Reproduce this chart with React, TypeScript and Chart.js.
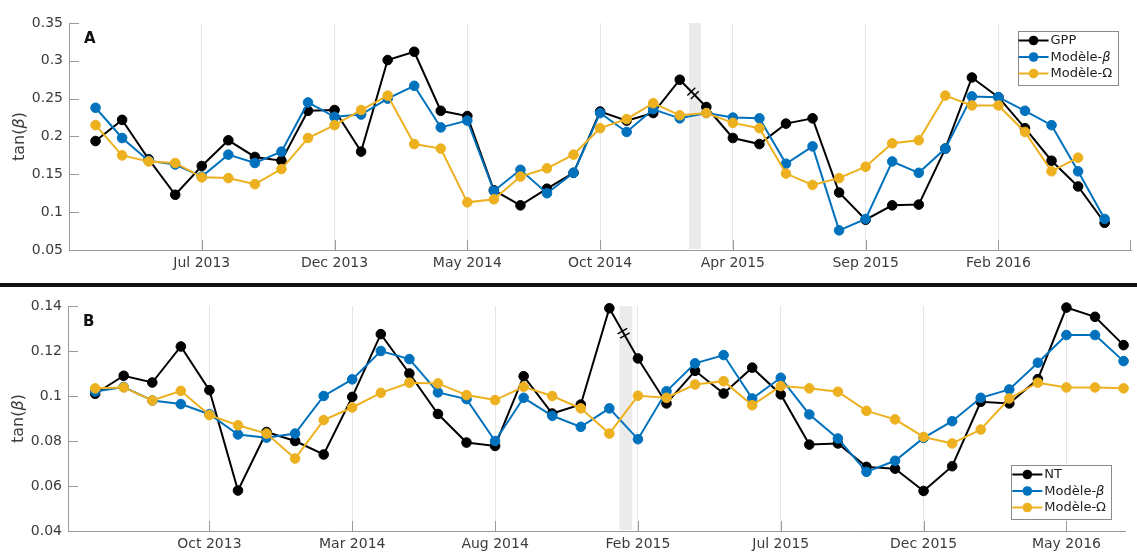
import React, { useEffect, useRef } from 'react';
import { Chart, registerables } from 'chart.js';

Chart.register(...registerables);

// ---------- Panel A data ----------
const monthsA = [
  'Mar 2013', 'Apr 2013', 'May 2013', 'Jun 2013', 'Jul 2013', 'Aug 2013', 'Sep 2013', 'Oct 2013', 'Nov 2013', 'Dec 2013',
  'Jan 2014', 'Feb 2014', 'Mar 2014', 'Apr 2014', 'May 2014', 'Jun 2014', 'Jul 2014', 'Aug 2014', 'Sep 2014', 'Oct 2014', 'Nov 2014', 'Dec 2014',
  'Jan 2015', 'Mar 2015', 'Apr 2015', 'May 2015', 'Jun 2015', 'Jul 2015', 'Aug 2015', 'Sep 2015', 'Oct 2015', 'Nov 2015', 'Dec 2015',
  'Jan 2016', 'Feb 2016', 'Mar 2016', 'Apr 2016', 'May 2016', 'Jun 2016',
];
const xTickLabelsA = ['Jul 2013', 'Dec 2013', 'May 2014', 'Oct 2014', 'Apr 2015', 'Sep 2015', 'Feb 2016'];
const yTickLabelsA = ['0.05', '0.1', '0.15', '0.2', '0.25', '0.3', '0.35'];
const gppA = [
  0.194, 0.222, 0.170, 0.123, 0.161, 0.195, 0.173, 0.168, 0.234, 0.235,
  0.180, 0.301, 0.312, 0.234, 0.227, 0.129, 0.109, 0.131, 0.152, 0.233, 0.221, 0.231,
  0.275, 0.239, 0.198, 0.190, 0.217, 0.224, 0.126, 0.090, 0.109, 0.110, 0.184,
  0.278, 0.252, 0.211, 0.168, 0.134, 0.086,
];
const betaA = [
  0.238, 0.198, 0.168, 0.163, 0.147, 0.176, 0.165, 0.180, 0.245, 0.226,
  0.229, 0.250, 0.267, 0.212, 0.221, 0.128, 0.156, 0.125, 0.152, 0.231, 0.206, 0.236,
  0.224, 0.231, 0.225, 0.224, 0.164, 0.187, 0.076, 0.091, 0.167, 0.152, 0.184,
  0.253, 0.252, 0.234, 0.215, 0.154, 0.091,
];
const omegaA: (number | null)[] = [
  0.215, 0.175, 0.167, 0.165, 0.146, 0.145, 0.137, 0.157, 0.198, 0.215,
  0.235, 0.254, 0.190, 0.184, 0.113, 0.117, 0.147, 0.158, 0.176, 0.211, 0.223, 0.244,
  0.228, 0.231, 0.218, 0.211, 0.151, 0.136, 0.145, 0.160, 0.191, 0.195, 0.254,
  0.241, 0.241, 0.206, 0.154, 0.172, null,
];
const namesA = ['GPP', 'Modèle-β', 'Modèle-Ω'];

// ---------- Panel B data ----------
const monthsB = [
  'Jun 2013', 'Jul 2013', 'Aug 2013', 'Sep 2013', 'Oct 2013', 'Nov 2013', 'Dec 2013',
  'Jan 2014', 'Feb 2014', 'Mar 2014', 'Apr 2014', 'May 2014', 'Jun 2014', 'Jul 2014', 'Aug 2014', 'Sep 2014', 'Oct 2014', 'Nov 2014', 'Dec 2014',
  'Feb 2015', 'Mar 2015', 'Apr 2015', 'May 2015', 'Jun 2015', 'Jul 2015', 'Aug 2015', 'Sep 2015', 'Oct 2015', 'Nov 2015', 'Dec 2015',
  'Jan 2016', 'Feb 2016', 'Mar 2016', 'Apr 2016', 'May 2016', 'Jun 2016', 'Jul 2016',
];
const xTickLabelsB = ['Oct 2013', 'Mar 2014', 'Aug 2014', 'Feb 2015', 'Jul 2015', 'Dec 2015', 'May 2016'];
const yTickLabelsB = ['0.04', '0.06', '0.08', '0.1', '0.12', '0.14'];
const ntB = [
  0.101, 0.109, 0.106, 0.122, 0.1026, 0.058, 0.084, 0.080, 0.074, 0.0996, 0.1275,
  0.110, 0.092, 0.0793, 0.0778, 0.1088, 0.0922, 0.0962, 0.139, 0.1167, 0.0967, 0.1112, 0.1011,
  0.1126, 0.1007, 0.0784, 0.0789, 0.0685, 0.0677, 0.0578, 0.0688, 0.0974, 0.0967, 0.1075, 0.1393, 0.1352, 0.1226,
];
const betaB = [
  0.102, 0.104, 0.098, 0.0964, 0.0919, 0.0829, 0.0815, 0.0833, 0.100, 0.1074, 0.120,
  0.1164, 0.1016, 0.0986, 0.080, 0.0992, 0.0912, 0.0863, 0.0945, 0.0808, 0.1021, 0.1145, 0.1182,
  0.0989, 0.1081, 0.0918, 0.0811, 0.0663, 0.0712, 0.0814, 0.0888, 0.0992, 0.1029, 0.1148, 0.1271, 0.1271, 0.1155,
];
const omegaB = [
  0.1034, 0.1038, 0.098, 0.1023, 0.0915, 0.087, 0.0833, 0.0722, 0.0893, 0.0949, 0.1014,
  0.1059, 0.1056, 0.1004, 0.0982, 0.1041, 0.1000, 0.0945, 0.0833, 0.1001, 0.0992, 0.1051, 0.1066,
  0.0959, 0.1044, 0.1034, 0.1019, 0.0934, 0.0896, 0.0818, 0.0789, 0.0851, 0.0989, 0.1059, 0.1038, 0.1038, 0.1034,
];
const namesB = ['NT', 'Modèle-β', 'Modèle-Ω'];

// ---------- Styling ----------
const FONT = '"DejaVu Sans", Verdana, sans-serif';
const COLORS = ['#000000', '#0072BD', '#EDB120'];
const AXIS_COLOR = '#9a9a9a';
const TEXT_COLOR = '#3c3c3c';
const GRID_COLOR = '#e6e6e6';

type PanelCfg = {
  months: string[];
  xTickLabels: string[];
  yTickLabels: string[];
  series: (number | null)[][];
  names: string[];
  letter: string;
  xMin: number;
  xMax: number;
  breakAfter: string;
  canvasHeight: number;
  padTop: number;
  padRight: number;
  yAxisWidth: number;
  xAxisHeight: number;
  legendAtBottom: boolean;
  endTick: boolean;
};

function drawRichText(ctx: CanvasRenderingContext2D, text: string, x: number, y: number, size: number, align: 'left' | 'center') {
  const parts: { t: string; italic: boolean }[] = [];
  let buf = '';
  for (const ch of text) {
    if (ch === 'β') {
      if (buf) parts.push({ t: buf, italic: false });
      parts.push({ t: ch, italic: true });
      buf = '';
    } else buf += ch;
  }
  if (buf) parts.push({ t: buf, italic: false });
  const fontOf = (it: boolean) => `${it ? 'italic ' : ''}${size}px ${FONT}`;
  let total = 0;
  for (const p of parts) {
    ctx.font = fontOf(p.italic);
    total += ctx.measureText(p.t).width;
  }
  let cx = align === 'center' ? x - total / 2 : x;
  ctx.textAlign = 'left';
  for (const p of parts) {
    ctx.font = fontOf(p.italic);
    ctx.fillText(p.t, cx, y);
    cx += ctx.measureText(p.t).width;
  }
  return total;
}

function makePlugin(p: PanelCfg) {
  const bi = p.months.indexOf(p.breakAfter);
  return {
    id: 'panelDecor',
    beforeDatasetsDraw(chart: any) {
      const { ctx, chartArea: ca, scales } = chart;
      const x = scales.x;
      const x0 = x.getPixelForValue(bi + 0.35);
      const x1 = x.getPixelForValue(bi + 0.8);
      ctx.save();
      ctx.fillStyle = '#ebebeb';
      ctx.fillRect(x0, ca.top, x1 - x0, ca.bottom - ca.top - 1);
      ctx.restore();
    },
    afterDatasetsDraw(chart: any) {
      const { ctx } = chart;
      const meta = chart.getDatasetMeta(0);
      const a = meta.data[bi];
      const b = meta.data[bi + 1];
      if (!a || !b) return;
      const mx = (a.x + b.x) / 2;
      const my = (a.y + b.y) / 2;
      const dx = b.x - a.x;
      const dy = b.y - a.y;
      const len = Math.hypot(dx, dy);
      const ux = dx / len;
      const uy = dy / len;
      const px = -uy;
      const py = ux;
      ctx.save();
      ctx.strokeStyle = '#000';
      ctx.lineWidth = 1.4;
      for (const s of [-2.5, 2.5]) {
        const cx = mx + ux * s;
        const cy = my + uy * s;
        ctx.beginPath();
        ctx.moveTo(cx - px * 5.5, cy - py * 5.5);
        ctx.lineTo(cx + px * 5.5, cy + py * 5.5);
        ctx.stroke();
      }
      ctx.restore();
    },
    afterDraw(chart: any) {
      const { ctx, chartArea: ca, scales } = chart;
      const x = scales.x;
      const y = scales.y;
      ctx.save();
      // inward tick marks
      ctx.strokeStyle = AXIS_COLOR;
      ctx.lineWidth = 1;
      ctx.beginPath();
      for (const t of x.ticks) {
        const px = Math.round(x.getPixelForValue(t.value)) + 0.5;
        ctx.moveTo(px, ca.bottom);
        ctx.lineTo(px, ca.bottom - 10);
      }
      if (p.endTick) {
        const px = Math.round(ca.right) - 0.5;
        ctx.moveTo(px, ca.bottom);
        ctx.lineTo(px, ca.bottom - 10);
      }
      for (const t of y.ticks) {
        const py = Math.round(y.getPixelForValue(t.value)) + 0.5;
        ctx.moveTo(ca.left, py);
        ctx.lineTo(ca.left + 10, py);
      }
      ctx.stroke();

      // y axis title
      ctx.fillStyle = TEXT_COLOR;
      ctx.textBaseline = 'middle';
      ctx.save();
      ctx.translate(ca.left - 49, (ca.top + ca.bottom) / 2);
      ctx.rotate(-Math.PI / 2);
      drawRichText(ctx, 'tan(β)', 0, 0, 16, 'center');
      ctx.restore();

      // panel letter
      ctx.fillStyle = '#111';
      ctx.font = `bold 15px ${FONT}`;
      ctx.textAlign = 'left';
      ctx.textBaseline = 'middle';
      ctx.fillText(p.letter, ca.left + 15, ca.top + 16);

      // legend
      ctx.font = `13px ${FONT}`;
      let maxW = 0;
      for (const n of p.names) maxW = Math.max(maxW, ctx.measureText(n).width);
      const boxW = 34 + maxW + 4;
      const boxH = 54;
      const right = ca.right - 14;
      const left = right - boxW;
      const top = p.legendAtBottom ? ca.bottom - 12 - boxH : ca.top + 8;
      ctx.fillStyle = '#ffffff';
      ctx.fillRect(left, top, boxW, boxH);
      ctx.strokeStyle = '#8a8a8a';
      ctx.lineWidth = 1;
      ctx.strokeRect(Math.round(left) + 0.5, Math.round(top) + 0.5, Math.round(boxW), Math.round(boxH));
      p.names.forEach((n, i) => {
        const ry = top + 9.5 + i * 16.5;
        ctx.strokeStyle = COLORS[i];
        ctx.lineWidth = 2;
        ctx.beginPath();
        ctx.moveTo(left + 1, ry);
        ctx.lineTo(left + 31, ry);
        ctx.stroke();
        ctx.fillStyle = COLORS[i];
        ctx.beginPath();
        ctx.arc(left + 16, ry, 4.8, 0, Math.PI * 2);
        ctx.fill();
        ctx.fillStyle = '#222';
        ctx.textBaseline = 'middle';
        drawRichText(ctx, n, left + 33, ry + 0.5, 13, 'left');
      });
      ctx.restore();
    },
  };
}

function buildConfig(p: PanelCfg): any {
  const yVals = p.yTickLabels.map((s) => parseFloat(s));
  const order = [2, 1, 0];
  return {
    type: 'line',
    data: {
      datasets: p.series.map((s, i) => ({
        label: p.names[i],
        data: s.map((v, k) => ({ x: k, y: v })),
        borderColor: COLORS[i],
        backgroundColor: COLORS[i],
        pointBackgroundColor: COLORS[i],
        pointBorderColor: COLORS[i],
        borderWidth: 2,
        pointRadius: 4.8,
        pointBorderWidth: 1,
        tension: 0,
        spanGaps: false,
        clip: false,
        order: order[i],
      })),
    },
    options: {
      animation: false,
      responsive: false,
      maintainAspectRatio: false,
      events: [],
      layout: { padding: { top: p.padTop, right: p.padRight, left: 0, bottom: 0 } },
      plugins: { legend: { display: false }, tooltip: { enabled: false } },
      scales: {
        x: {
          type: 'linear',
          min: p.xMin,
          max: p.xMax,
          afterBuildTicks: (s: any) => {
            s.ticks = p.xTickLabels.map((l) => ({ value: p.months.indexOf(l) }));
          },
          afterFit: (s: any) => {
            s.height = p.xAxisHeight;
            s.paddingLeft = 0;
            s.paddingRight = 0;
          },
          ticks: {
            callback: (v: number) => p.months[Math.round(v)] ?? '',
            color: TEXT_COLOR,
            font: { family: FONT, size: 14 },
            padding: 5,
            maxRotation: 0,
            autoSkip: false,
          },
          grid: { color: GRID_COLOR, drawTicks: false, lineWidth: 1 },
          border: { color: AXIS_COLOR, width: 1 },
        },
        y: {
          type: 'linear',
          min: yVals[0],
          max: yVals[yVals.length - 1],
          afterBuildTicks: (s: any) => {
            s.ticks = yVals.map((v) => ({ value: v }));
          },
          afterFit: (s: any) => {
            s.width = p.yAxisWidth;
          },
          ticks: {
            callback: (v: number) => {
              const idx = yVals.findIndex((t) => Math.abs(t - v) < 1e-9);
              return idx >= 0 ? p.yTickLabels[idx] : '';
            },
            color: TEXT_COLOR,
            font: { family: FONT, size: 14 },
            padding: 6,
          },
          grid: { color: 'rgba(0,0,0,0)', drawTicks: false },
          border: { color: AXIS_COLOR, width: 1 },
        },
      },
    },
    plugins: [makePlugin(p)],
  };
}

const cfgA: PanelCfg = {
  months: monthsA,
  xTickLabels: xTickLabelsA,
  yTickLabels: yTickLabelsA,
  series: [gppA, betaA, omegaA],
  names: namesA,
  letter: 'A',
  xMin: -1,
  xMax: 39,
  breakAfter: 'Jan 2015',
  canvasHeight: 283,
  padTop: 23,
  padRight: 5,
  yAxisWidth: 69,
  xAxisHeight: 33,
  legendAtBottom: false,
  endTick: true,
};

const cfgB: PanelCfg = {
  months: monthsB,
  xTickLabels: xTickLabelsB,
  yTickLabels: yTickLabelsB,
  series: [ntB, betaB, omegaB],
  names: namesB,
  letter: 'B',
  xMin: -0.95,
  xMax: 36.05,
  breakAfter: 'Dec 2014',
  canvasHeight: 267,
  padTop: 19,
  padRight: 12,
  yAxisWidth: 68,
  xAxisHeight: 23,
  legendAtBottom: true,
  endTick: false,
};

function Panel({ cfg, top }: { cfg: PanelCfg; top: number }) {
  const ref = useRef<HTMLCanvasElement>(null);
  useEffect(() => {
    if (!ref.current) return;
    const chart = new Chart(ref.current, buildConfig(cfg));
    return () => chart.destroy();
  }, [cfg]);
  return (
    <canvas
      ref={ref}
      width={1137}
      height={cfg.canvasHeight}
      style={{ position: 'absolute', left: 0, top, width: 1137, height: cfg.canvasHeight, display: 'block' }}
    />
  );
}

export default function App() {
  return (
    <div style={{ position: 'absolute', left: 0, top: 0, width: 1137, height: 554, background: '#ffffff', overflow: 'hidden' }}>
      <Panel cfg={cfgA} top={0} />
      <div style={{ position: 'absolute', left: 0, top: 283, width: 1137, height: 4, background: '#111' }} />
      <Panel cfg={cfgB} top={287} />
    </div>
  );
}
